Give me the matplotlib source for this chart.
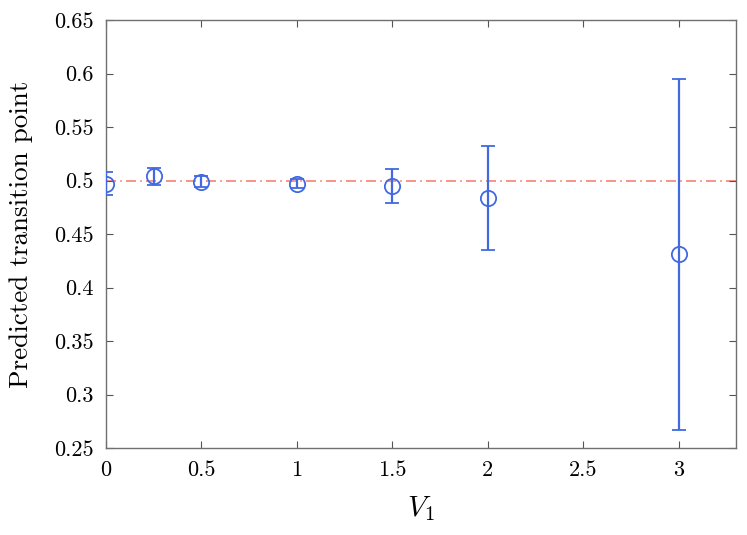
import matplotlib
matplotlib.use("Agg")
import matplotlib.pyplot as plt

x_vals = [0, 0.25, 0.5, 1, 1.5, 2, 3]
y_vals = [0.497, 0.504, 0.499, 0.497, 0.495, 0.484, 0.431]
y_err = [0.011, 0.008, 0.005, 0.004, 0.0156, 0.0487, 0.164]
ref_line = 0.5
x_ticks = [0, 0.5, 1, 1.5, 2, 2.5, 3]
x_tick_labels = ["0", "0.5", "1", "1.5", "2", "2.5", "3"]
y_ticks = [0.25, 0.3, 0.35, 0.4, 0.45, 0.5, 0.55, 0.6, 0.65]
y_tick_labels = ["0.25", "0.3", "0.35", "0.4", "0.45", "0.5", "0.55", "0.6", "0.65"]

plt.rcParams["font.family"] = "serif"
plt.rcParams["font.serif"] = ["cmr10", "DejaVu Serif"]
plt.rcParams["mathtext.fontset"] = "cm"
plt.rcParams["axes.formatter.use_mathtext"] = True

fig = plt.figure(figsize=(7.47, 5.35), dpi=100)
ax = fig.add_axes([106/747, 1-448/535, (736-106)/747, (448-20)/535])

blue = "#4169E1"
ax.axhline(ref_line, color="#FA8072", linestyle=(0, (6, 2.5, 1, 2.5)), linewidth=1.2, zorder=1)
ax.errorbar(x_vals, y_vals, yerr=y_err, fmt="o", mfc="none", mec=blue, ecolor=blue,
            color=blue, markersize=11, markeredgewidth=1.3, elinewidth=1.6,
            capsize=5, capthick=1.6, zorder=3)

ax.set_xlim(0, 3.3)
ax.set_ylim(0.25, 0.65)
ax.set_xticks(x_ticks)
ax.set_xticklabels(x_tick_labels)
ax.set_yticks(y_ticks)
ax.set_yticklabels(y_tick_labels)
ax.tick_params(direction="in", top=True, right=True, length=5, width=0.8,
               color="#555555", labelsize=16, pad=9)
for s in ax.spines.values():
    s.set_color("#707070")
    s.set_linewidth(1.0)

ax.set_xlabel(r"$V_1$", fontsize=21, labelpad=10)
ax.set_ylabel("Predicted transition point", fontsize=19.5, labelpad=15)

fig.savefig("out.png", dpi=100)
